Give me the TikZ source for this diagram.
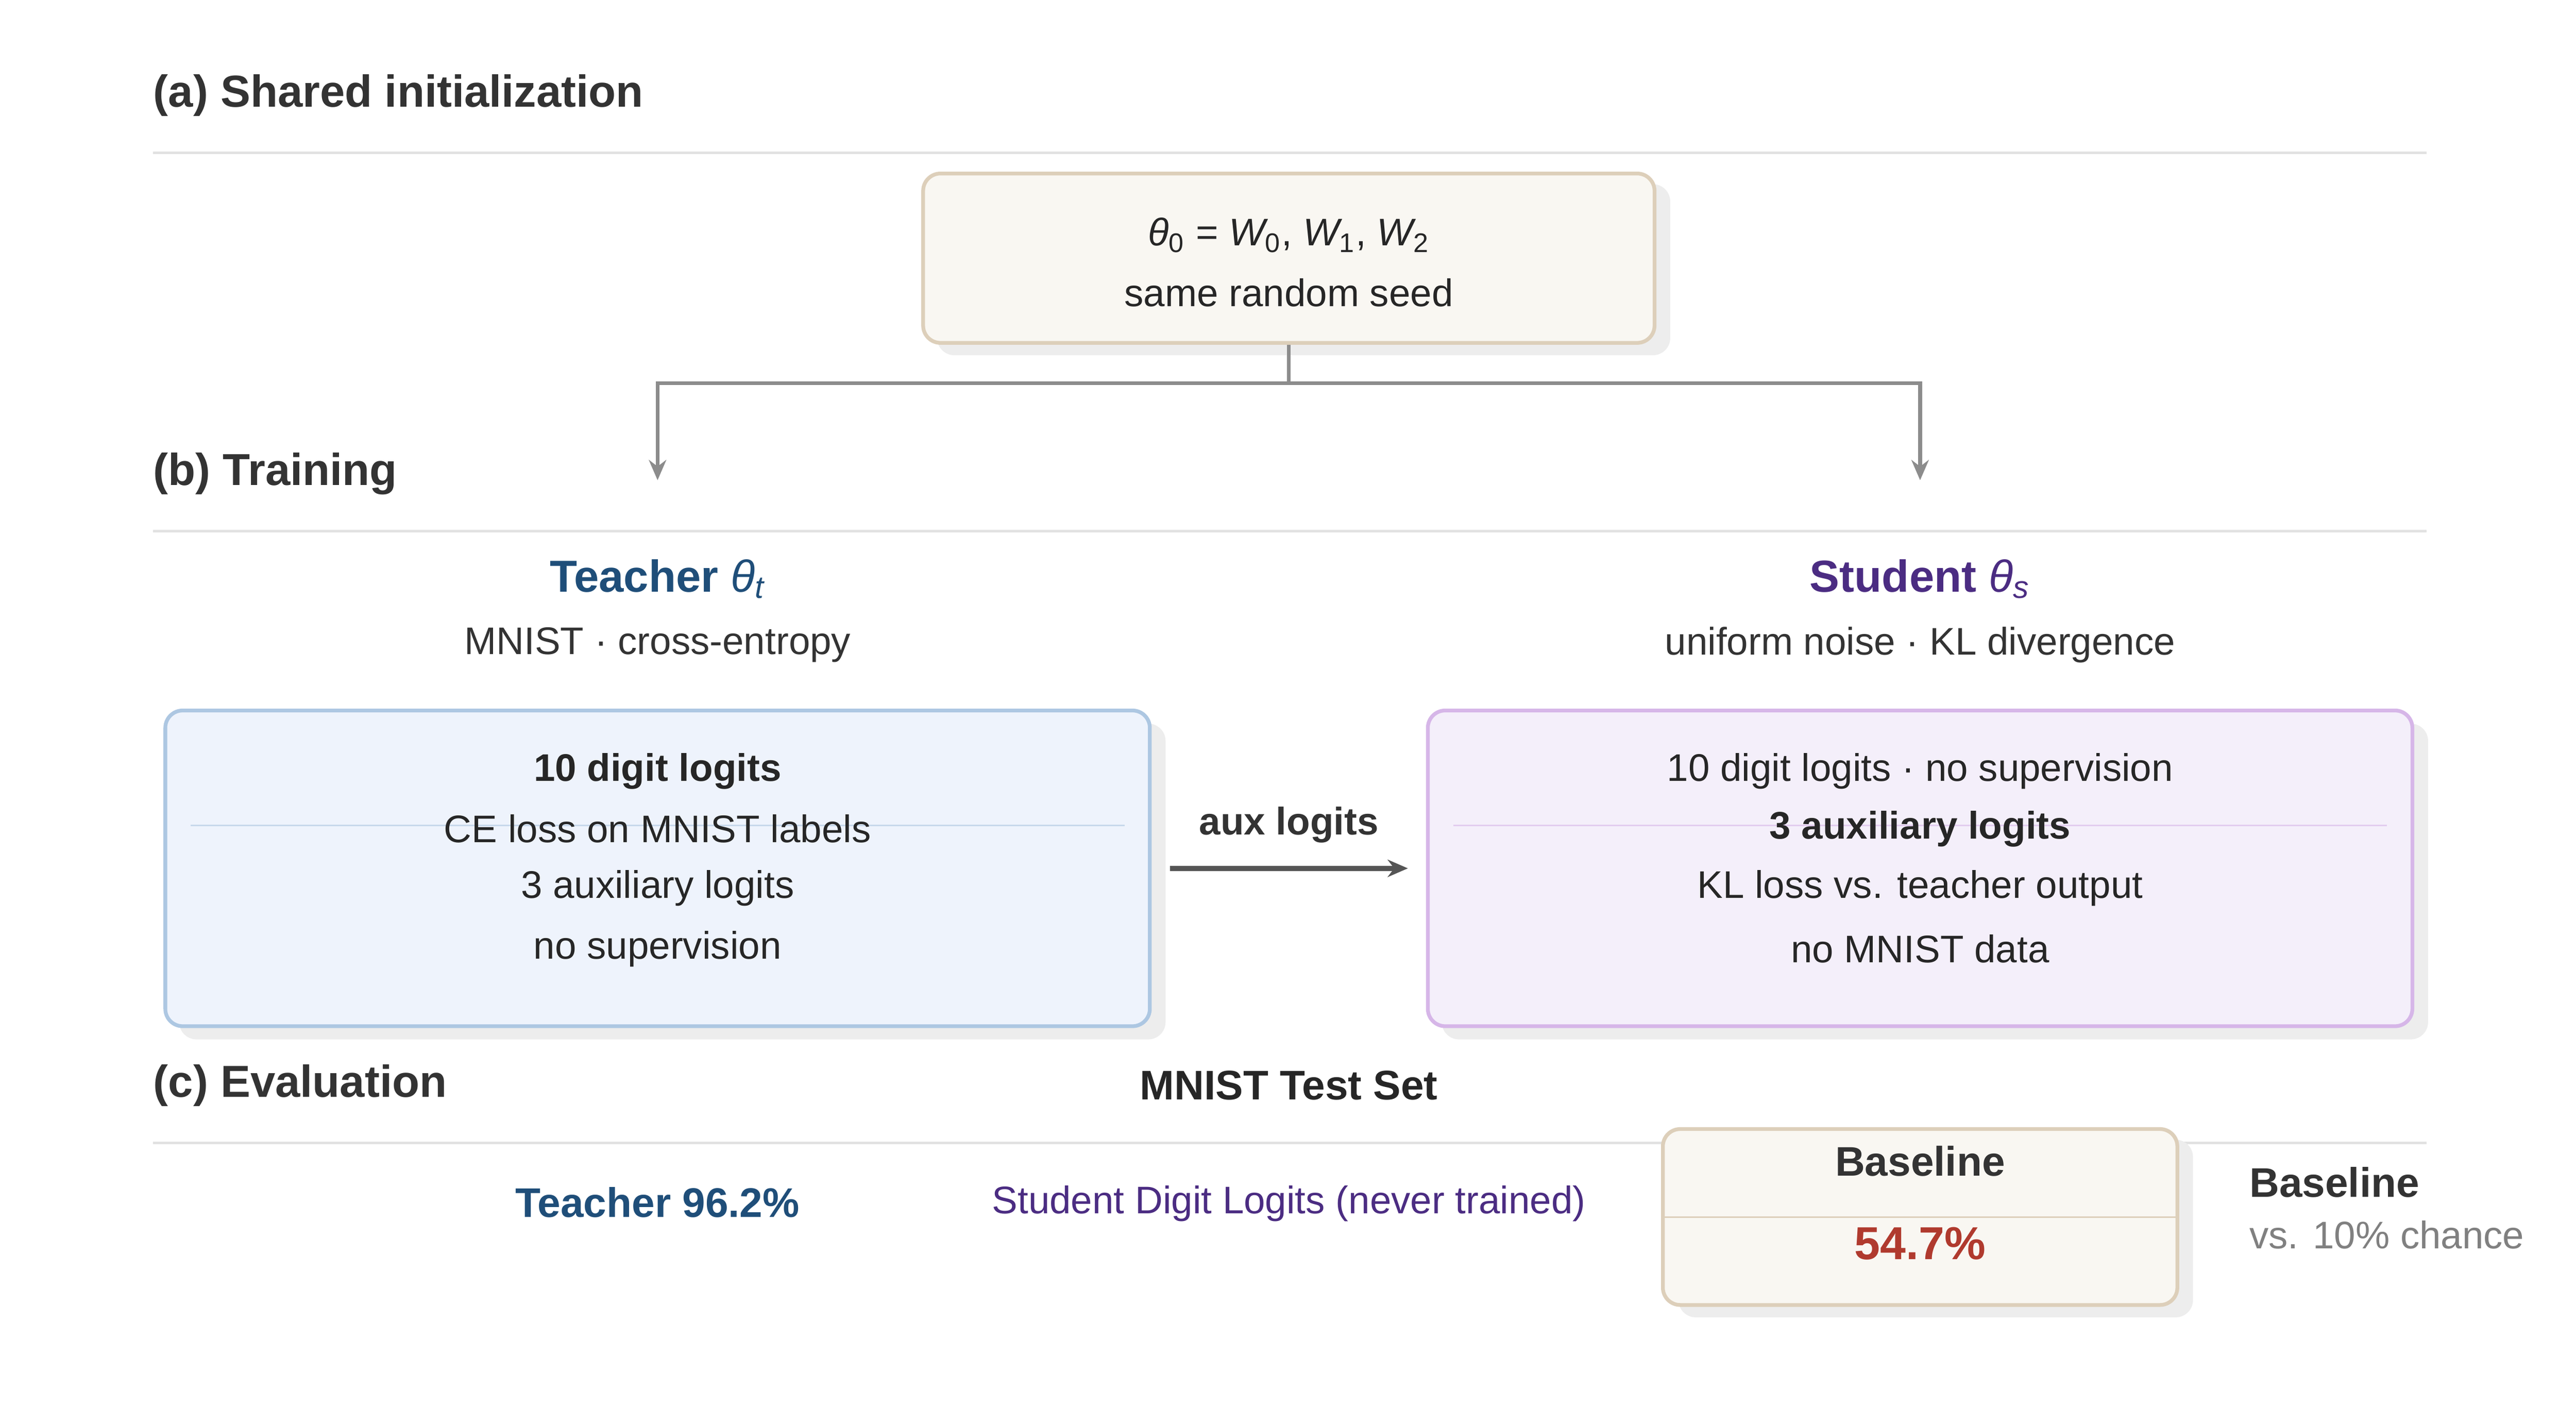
\documentclass[tikz,border=0pt]{standalone}
\usepackage{fontspec}
\setmainfont{Liberation Sans}
\usetikzlibrary{arrows.meta,positioning}
\definecolor{inkgray}{HTML}{333333}
\definecolor{midgray}{HTML}{555555}
\definecolor{rulegray}{HTML}{E2E2E2}
\definecolor{teacherblue}{HTML}{1F4E79}
\definecolor{studentpurple}{HTML}{4B2C82}
\definecolor{sandfill}{HTML}{F9F7F2}
\definecolor{sanddraw}{HTML}{DDCFBA}
\definecolor{bluefill}{HTML}{EEF3FC}
\definecolor{bluedraw}{HTML}{ADC7E2}
\definecolor{purplefill}{HTML}{F4EFFA}
\definecolor{purpledraw}{HTML}{D6B6E8}
\definecolor{boxshade}{HTML}{EDEDED}
\definecolor{resultred}{HTML}{B03A2E}

\begin{document}
\begin{tikzpicture}[x=0.02cm,y=-0.02cm,inner sep=0pt,
  section/.style={anchor=west,font=\fontsize{15.5}{18}\selectfont\bfseries,text=inkgray},
  body/.style={font=\fontsize{13.3}{16}\selectfont,text=black!85},
  note/.style={font=\fontsize{13.3}{16}\selectfont,text=inkgray},
  head/.style={font=\fontsize{15.5}{18}\selectfont\bfseries},
  card/.style={draw,line width=1.3pt,rounded corners=6pt},
  inner rule/.style={line width=0.6pt},
  link/.style={draw=gray!90,line width=1.3pt},
  tip/.style={-{Stealth[length=7pt,width=6pt]}}]

  \useasboundingbox[fill=white] (0,0) rectangle (1567,864);

  %section titles and rules%
  \node[section] (secA) at (93,58) {(a) Shared initialization};
  \node[section] (secB) at (93,288) {(b) Training};
  \node[section] (secC) at (93,660) {(c) Evaluation};
  \foreach \y in {93,323,695}
    \draw[rulegray,line width=0.8pt] (93,\y) -- (1476,\y);

  %shared initialization%
  \fill[boxshade,rounded corners=6pt] (570,112) rectangle (1016,216);
  \node[card,draw=sanddraw,fill=sandfill,minimum width=8.9cm,minimum height=2.06cm]
    (init) at (784,157) {};
  \node[body] (initA) at (784,143) {{\itshape θ}\textsubscript{0} = {\itshape W}\textsubscript{0}, {\itshape W}\textsubscript{1}, {\itshape W}\textsubscript{2}};
  \node[body] (initB) at (784,178) {same random seed};
  \coordinate (split) at (784,233);
  \coordinate (toT) at (400,292);
  \coordinate (toS) at (1168,292);
  \draw[link] (init.south) -- (split);
  \draw[link,tip] (split) -| (toT);
  \draw[link,tip] (split) -| (toS);

  %training headings%
  \node[head,text=teacherblue] (tName) at (400,352) {Teacher {\mdseries\itshape θ}\textsubscript{\mdseries\itshape t}};
  \node[note] (tSub) at (400,392) {MNIST · cross-entropy};
  \node[head,text=studentpurple] (sName) at (1168,352) {Student {\mdseries\itshape θ}\textsubscript{\mdseries\itshape s}};
  \node[note] (sSub) at (1168,392) {uniform noise · KL divergence};

  %teacher card%
  \fill[boxshade,rounded corners=6pt] (109,440) rectangle (709,632);
  \node[card,draw=bluedraw,fill=bluefill,minimum width=11.98cm,minimum height=3.84cm]
    (tBox) at (400,528) {};
  \draw[bluedraw!70,inner rule] (116,502) -- (684,502);
  \node[body,font=\fontsize{13.3}{16}\selectfont\bfseries] (t1) at (400,469) {10 digit logits};
  \node[body] (t2) at (400,504) {CE loss on MNIST labels};
  \node[body] (t3) at (400,540) {3 auxiliary logits};
  \node[body] (t4) at (400,577) {no supervision};

  %student card%
  \fill[boxshade,rounded corners=6pt] (877,440) rectangle (1477,632);
  \node[card,draw=purpledraw,fill=purplefill,minimum width=11.98cm,minimum height=3.84cm]
    (sBox) at (1168,528) {};
  \draw[purpledraw!70,inner rule] (884,502) -- (1452,502);
  \node[body] (s1) at (1168,469) {10 digit logits · no supervision};
  \node[body,font=\fontsize{13.3}{16}\selectfont\bfseries] (s2) at (1168,504) {3 auxiliary logits};
  \node[body] (s3) at (1168,540) {KL loss vs. teacher output};
  \node[body] (s4) at (1168,577) {no MNIST data};

  %teacher to student%
  \draw[midgray,line width=1.8pt,tip,shorten <=0.22cm,shorten >=0.22cm] (tBox.east) -- node[above=8pt,font=\fontsize{13.3}{16}\selectfont\bfseries,text=inkgray] {aux logits} (sBox.west);

  %evaluation%
  \node[head,font=\fontsize{14.3}{17}\selectfont\bfseries,text=black!85] (test) at (784,660) {MNIST Test Set};
  \node[head,font=\fontsize{14.3}{17}\selectfont\bfseries,text=teacherblue] (tAcc) at (400,731) {Teacher 96.2\%};
  \node[body,text=studentpurple] (sAcc) at (784,732) {Student Digit Logits (never trained)};
  \fill[boxshade,rounded corners=6pt] (1021,693) rectangle (1334,801);
  \node[card,draw=sanddraw,fill=sandfill,minimum width=6.26cm,minimum height=2.14cm]
    (base) at (1168,740) {};
  \draw[sanddraw,inner rule] (1012,740) -- (1325,740);
  \node[head,font=\fontsize{14.3}{17}\selectfont\bfseries,text=inkgray] (baseT) at (1168,706) {Baseline};
  \node[head,font=\fontsize{16}{19}\selectfont\bfseries,text=resultred] (baseV) at (1168,756) {54.7\%};
  \node[head,font=\fontsize{14.3}{17}\selectfont\bfseries,text=inkgray,anchor=west] (baseN) at (1368,719) {Baseline};
  \node[note,anchor=west,text=gray] (baseC) at (1368,751) {vs. 10\% chance};
\end{tikzpicture}
\end{document}
